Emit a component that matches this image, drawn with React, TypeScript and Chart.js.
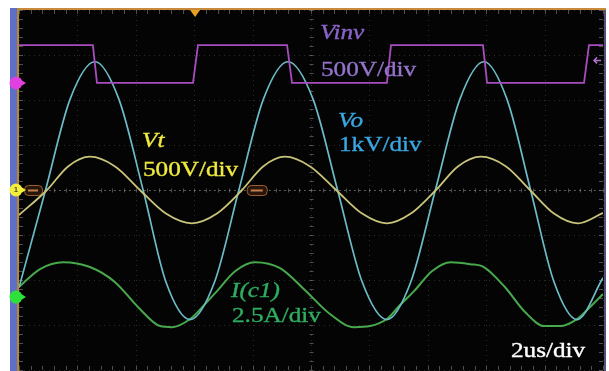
import React, { useEffect, useRef } from "react";
import { Chart, registerables } from "chart.js";

Chart.register(...registerables);

const W = 609;
const H = 371;

// time axis in microseconds (2 us/div, 10 divisions)
const timeTicks = [0, 2, 4, 6, 8, 10, 12, 14, 16, 18, 20];

// Vinv (V), 500 V/div, square wave
const vinvTime = [0, 2.53, 2.67, 5.96, 6.13, 9.18, 9.35, 12.6, 12.74, 15.89, 16.03, 19.35, 19.52, 20.0];
const vinvVolts = [420, 420, 0, 0, 420, 420, 0, 0, 420, 420, 0, 0, 420, 420];

// Vt (V), 500 V/div
const vtTime = [0, 0.96, 1.68, 2.43, 3.29, 4.14, 5.03, 5.92, 6.78, 7.64, 8.36, 9.11, 9.97, 10.86, 11.75, 12.6, 13.42, 14.28, 15.03, 15.82, 16.68, 17.5, 18.32, 19.14, 20.0];
const vtVolts = [-278, 0, 262, 370, 262, 0, -262, -370, -262, 0, 262, 370, 262, 0, -262, -370, -262, 0, 262, 370, 262, 0, -262, -370, -255];

// Vo (kV), 1 kV/div
const voTime = [0, 0.91, 1.75, 2.6, 3.42, 4.25, 5.03, 5.86, 6.7, 7.53, 8.37, 9.21, 10.07, 10.91, 11.75, 12.6, 13.42, 14.26, 15.1, 15.92, 16.71, 17.52, 18.32, 19.11, 20.0];
const voKV = [-2.17, 0, 2.02, 2.85, 2.02, 0, -2.04, -2.88, -2.04, 0, 2.02, 2.85, 2.02, 0, -2.04, -2.88, -2.04, 0, 2.02, 2.85, 2.02, 0, -2.04, -2.88, -1.95];

// I(c1) (A), 2.5 A/div
const icTime = [0, 0.72, 1.51, 2.43, 3.29, 4.08, 4.83, 5.24, 5.86, 6.37, 6.78, 7.4, 8.08, 8.94, 9.76, 10.65, 11.47, 12.02, 12.6, 13.05, 13.53, 14.14, 14.79, 15.45, 15.92, 16.64, 17.33, 17.98, 18.53, 19.11, 19.55, 20.0];
const icAmps = [0.56, 1.56, 1.94, 1.67, 0.83, -0.56, -1.61, -1.67, -1.22, -0.39, 0.33, 1.44, 1.94, 1.61, 0.44, -0.94, -1.67, -1.61, -1.22, -0.44, 0.33, 1.44, 1.94, 1.83, 1.67, 0.56, -0.83, -1.61, -1.61, -1.22, -0.56, 0.17];

// channel settings: per-division scale and ground offset (divisions from centre)
const vinvPerDiv = 500;
const vinvOffsetDiv = 2.38;
const vtPerDiv = 500;
const voPerDiv = 1;
const icPerDiv = 2.5;
const icOffsetDiv = -2.38;

const toPoints = (xs: number[], ys: number[]) => xs.map((x, i) => ({ x, y: ys[i] }));

function drawStretched(ctx: CanvasRenderingContext2D, text: string, x: number, y: number, color: string, italic: boolean) {
  ctx.save();
  ctx.font = `${italic ? "italic " : ""}21px "Liberation Serif", "DejaVu Serif", serif`;
  ctx.fillStyle = color;
  ctx.strokeStyle = color;
  ctx.lineWidth = 0.35;
  ctx.textAlign = "left";
  ctx.textBaseline = "alphabetic";
  ctx.translate(x, y);
  ctx.scale(1.2, 1);
  ctx.fillText(text, 0, 0);
  ctx.strokeText(text, 0, 0);
  ctx.restore();
}

const scopePlugin = {
  id: "scopeFrame",
  beforeDraw(chart: any) {
    const { ctx, chartArea: a } = chart;
    const xs = chart.scales.x;
    const ys = chart.scales.yVo;
    ctx.save();
    ctx.fillStyle = "#ffffff";
    ctx.fillRect(0, 0, W, H);
    ctx.fillStyle = "#040404";
    ctx.fillRect(a.left - 1, a.top - 1, a.right - a.left + 2, H - a.top + 1);
    // left blue bar
    ctx.fillStyle = "#5d6fc6";
    ctx.fillRect(10, 8, 7, H - 8);
    // orange frame
    ctx.fillStyle = "#c98a3c";
    ctx.fillRect(17, 8, a.right - 17 + 3, 2);
    ctx.fillStyle = "#b8862e";
    ctx.fillRect(17, 8, 2, H - 8);
    // right border
    ctx.fillStyle = "#5a4f7a";
    ctx.fillRect(a.right + 1, 10, 2, H - 10);

    // grid
    ctx.strokeStyle = "rgba(100,100,100,0.4)";
    ctx.lineWidth = 1;
    ctx.setLineDash([1, 4]);
    for (const t of timeTicks) {
      const px = Math.round(xs.getPixelForValue(t)) + 0.5;
      ctx.beginPath();
      ctx.moveTo(px, a.top);
      ctx.lineTo(px, a.bottom);
      ctx.stroke();
    }
    for (let d = -4; d <= 4; d++) {
      const py = Math.round(ys.getPixelForValue(d * voPerDiv)) + 0.5;
      ctx.beginPath();
      ctx.moveTo(a.left, py);
      ctx.lineTo(a.right, py);
      ctx.stroke();
    }
    ctx.setLineDash([]);
    // centre lines + edge minor ticks
    ctx.strokeStyle = "rgba(140,140,140,0.55)";
    const cy = Math.round(ys.getPixelForValue(0)) + 0.5;
    const cx = Math.round(xs.getPixelForValue(10)) + 0.5;
    ctx.setLineDash([2, 3]);
    ctx.beginPath();
    ctx.moveTo(a.left, cy);
    ctx.lineTo(a.right, cy);
    ctx.stroke();
    ctx.setLineDash([]);
    for (let t = 0; t <= 20.001; t += 0.4) {
      const px = Math.round(xs.getPixelForValue(t)) + 0.5;
      ctx.beginPath();
      ctx.moveTo(px, cy - 2);
      ctx.lineTo(px, cy + 2);
      ctx.moveTo(px, a.top);
      ctx.lineTo(px, a.top + 4);
      ctx.moveTo(px, a.bottom);
      ctx.lineTo(px, a.bottom - 4);
      ctx.stroke();
    }
    for (let d = -4; d <= 4.001; d += 0.2) {
      const py = Math.round(ys.getPixelForValue(d)) + 0.5;
      ctx.beginPath();
      ctx.moveTo(a.left, py);
      ctx.lineTo(a.left + 4, py);
      ctx.moveTo(a.right, py);
      ctx.lineTo(a.right - 4, py);
      ctx.moveTo(cx - 2, py);
      ctx.lineTo(cx + 2, py);
      ctx.stroke();
    }
    // cursor labels on the centre line
    const labelBox = (x0: number, w: number) => {
      ctx.fillStyle = "#2a1608";
      ctx.strokeStyle = "#9a6030";
      ctx.lineWidth = 1;
      ctx.beginPath();
      ctx.roundRect(x0 + 0.5, cy - 5, w, 10, 4);
      ctx.fill();
      ctx.stroke();
      ctx.fillStyle = "#c08050";
      ctx.fillRect(x0 + 4, cy - 1, w - 8, 2);
    };
    labelBox(a.left + 5, 18);
    labelBox(xs.getPixelForValue(7.8), 20);
    ctx.restore();
  },
  afterDatasetsDraw(chart: any) {
    const { ctx, chartArea: a } = chart;
    const xs = chart.scales.x;
    ctx.save();
    // trigger marker
    const tx = xs.getPixelForValue(6.03);
    ctx.fillStyle = "#e8a020";
    ctx.beginPath();
    ctx.moveTo(tx - 5, a.top);
    ctx.lineTo(tx + 5, a.top);
    ctx.lineTo(tx, a.top + 7);
    ctx.closePath();
    ctx.fill();

    // channel ground markers
    const marker = (py: number, color: string, label: string) => {
      ctx.fillStyle = color;
      ctx.beginPath();
      ctx.arc(16, py, 6.5, 0, Math.PI * 2);
      ctx.fill();
      ctx.beginPath();
      ctx.moveTo(22, py - 2.5);
      ctx.lineTo(26, py);
      ctx.lineTo(22, py + 2.5);
      ctx.closePath();
      ctx.fill();
      if (label) {
        ctx.fillStyle = "#444";
        ctx.font = "bold 7px sans-serif";
        ctx.textAlign = "center";
        ctx.textBaseline = "middle";
        ctx.fillText(label, 16, py);
      }
    };
    marker(chart.scales.yInv.getPixelForValue(0), "#e040e0", "");
    marker(chart.scales.yVt.getPixelForValue(0), "#f2ee3a", "1");
    marker(chart.scales.yIc.getPixelForValue(0), "#2ee03a", "");

    // right-side Vinv offset arrow
    const ry = chart.scales.yInv.getPixelForValue(250);
    ctx.strokeStyle = "#b070d0";
    ctx.lineWidth = 1.5;
    ctx.beginPath();
    ctx.moveTo(601, ry);
    ctx.lineTo(594, ry);
    ctx.moveTo(597, ry - 3);
    ctx.lineTo(594, ry);
    ctx.lineTo(597, ry + 3);
    ctx.stroke();

    // annotations
    drawStretched(ctx, "Vinv", 320, 39, "#8a64c8", true);
    drawStretched(ctx, "500V/div", 321, 76, "#9474cc", false);
    drawStretched(ctx, "Vo", 338, 127, "#3aa8e2", true);
    drawStretched(ctx, "1kV/div", 339, 151, "#3aa8e2", false);
    drawStretched(ctx, "Vt", 142, 147, "#eeea40", true);
    drawStretched(ctx, "500V/div", 143, 176, "#eeea40", false);
    drawStretched(ctx, "I(c1)", 231, 297, "#2fae62", true);
    drawStretched(ctx, "2.5A/div", 232, 322, "#2fae62", false);
    drawStretched(ctx, "2us/div", 511, 357, "#ffffff", false);
    ctx.restore();
  },
};

export default function App() {
  const ref = useRef<HTMLCanvasElement | null>(null);
  useEffect(() => {
    if (!ref.current) return;
    const chart = new Chart(ref.current, {
      type: "line",
      data: {
        datasets: [
          {
            label: "Vinv",
            data: toPoints(vinvTime, vinvVolts),
            yAxisID: "yInv",
            borderColor: "#a84cc0",
            borderWidth: 1.8,
            pointRadius: 0,
            tension: 0,
          },
          {
            label: "Vt",
            data: toPoints(vtTime, vtVolts),
            yAxisID: "yVt",
            borderColor: "#c9c47a",
            borderWidth: 1.8,
            pointRadius: 0,
            cubicInterpolationMode: "monotone",
          },
          {
            label: "Vo",
            data: toPoints(voTime, voKV),
            yAxisID: "yVo",
            borderColor: "#6cbcc8",
            borderWidth: 1.7,
            pointRadius: 0,
            cubicInterpolationMode: "monotone",
          },
          {
            label: "I(c1)",
            data: toPoints(icTime, icAmps),
            yAxisID: "yIc",
            borderColor: "#48a84c",
            borderWidth: 2,
            pointRadius: 0,
            cubicInterpolationMode: "monotone",
          },
        ],
      },
      options: {
        animation: false,
        responsive: false,
        devicePixelRatio: 1,
        layout: { padding: { left: 19, top: 10, right: 6, bottom: 1 } },
        plugins: { legend: { display: false }, tooltip: { enabled: false } },
        scales: {
          x: { type: "linear", min: 0, max: 20, display: false },
          yVo: { type: "linear", min: -4 * voPerDiv, max: 4 * voPerDiv, display: false },
          yVt: { type: "linear", min: -4 * vtPerDiv, max: 4 * vtPerDiv, display: false },
          yInv: {
            type: "linear",
            min: (-4 - vinvOffsetDiv) * vinvPerDiv,
            max: (4 - vinvOffsetDiv) * vinvPerDiv,
            display: false,
          },
          yIc: {
            type: "linear",
            min: (-4 - icOffsetDiv) * icPerDiv,
            max: (4 - icOffsetDiv) * icPerDiv,
            display: false,
          },
        },
      },
      plugins: [scopePlugin],
    } as any);
    return () => chart.destroy();
  }, []);
  return (
    <div style={{ position: "fixed", left: 0, top: 0, width: W, height: H }}>
      <canvas ref={ref} width={W} height={H} style={{ display: "block", width: W, height: H }} />
    </div>
  );
}
